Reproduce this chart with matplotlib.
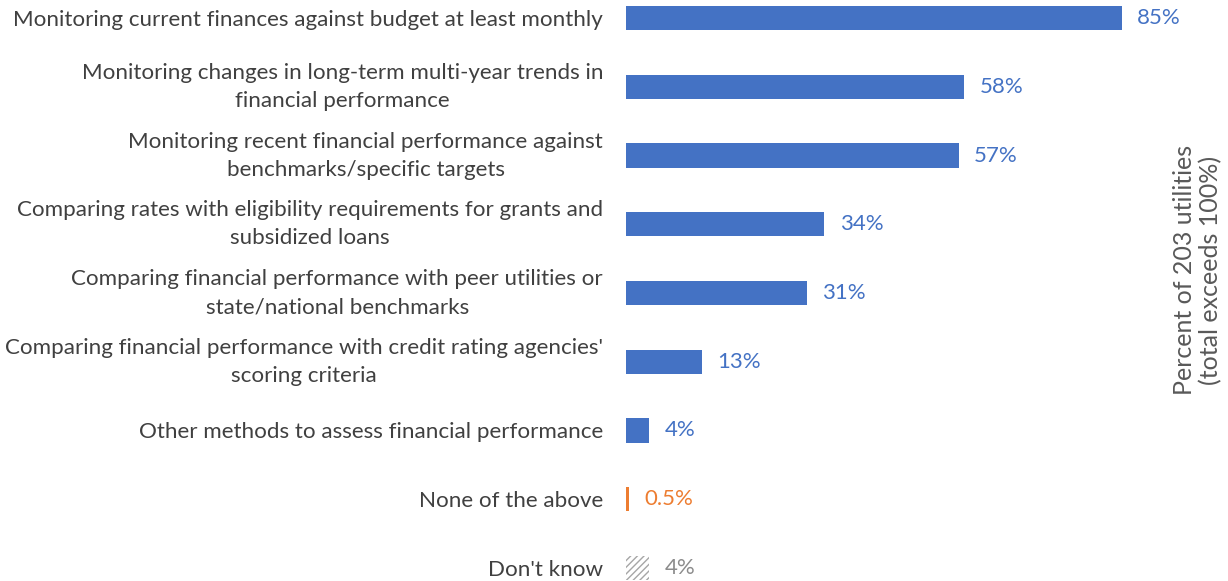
import matplotlib
matplotlib.use("Agg")
import matplotlib.pyplot as plt

plt.rcParams['font.family'] = ['Lato', 'DejaVu Sans']
plt.rcParams['hatch.color'] = '#a6a6a6'
plt.rcParams['hatch.linewidth'] = 1.0

categories = [
    "Monitoring current finances against budget at least monthly",
    "Monitoring changes in long-term multi-year trends in\nfinancial performance",
    "Monitoring recent financial performance against\nbenchmarks/specific targets",
    "Comparing rates with eligibility requirements for grants and\nsubsidized loans",
    "Comparing financial performance with peer utilities or\nstate/national benchmarks",
    "Comparing financial performance with credit rating agencies'\nscoring criteria",
    "Other methods to assess financial performance",
    "None of the above",
    "Don't know",
]
values = [85, 58, 57, 34, 31, 13, 4, 0.5, 4]
value_labels = ["85%", "58%", "57%", "34%", "31%", "13%", "4%", "0.5%", "4%"]

blue = '#4472C4'
orange = '#ED7D31'
grey = '#a6a6a6'

fig = plt.figure(figsize=(12.28, 5.81), dpi=100)
ax = fig.add_axes([626 / 1228, 0, (1150 - 626) / 1228, 1])

ypos = list(range(len(categories)))
for i, v in enumerate(values):
    if categories[i] == "Don't know":
        ax.barh(i, v, height=0.35, color='none', hatch='/////', edgecolor=grey, linewidth=0)
        tcol = '#8c8c8c'
    elif categories[i] == "None of the above":
        ax.barh(i, v, height=0.35, color=orange)
        tcol = orange
    else:
        ax.barh(i, v, height=0.35, color=blue)
        tcol = blue
    ax.text(v + 2.6, i, value_labels[i], va='center', ha='left', fontsize=16, color=tcol)

ax.set_xlim(0, (1150 - 626) / 5.835)
ax.set_ylim(8 + 13 / 68.75, -18 / 68.75)
ax.set_yticks(ypos)
ax.set_yticklabels(categories, fontsize=16.1, color='#404040')
for lbl in ax.get_yticklabels():
    lbl.set_multialignment('center')
    lbl.set_linespacing(1.5)
    if "\n" in lbl.get_text():
        lbl.set_verticalalignment('center')
ax.tick_params(axis='y', length=0, pad=16.5)
ax.set_xticks([])
for s in ax.spines.values():
    s.set_visible(False)

fig.text(1198 / 1228, 1 - 270 / 581, "Percent of 203 utilities\n(total exceeds 100%)",
         rotation=90, ha='center', va='center', fontsize=18, color='#595959',
         linespacing=1.15)

fig.savefig("out.png", dpi=100)
